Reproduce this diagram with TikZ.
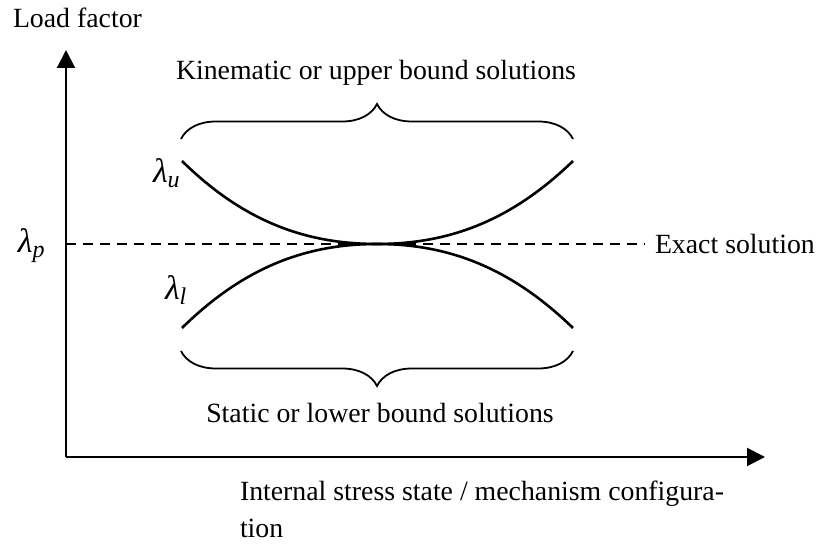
\documentclass[tikz,border=0pt]{standalone}
\usepackage{fontspec}
\setmainfont{Liberation Serif}
\usetikzlibrary{arrows.meta, positioning, decorations.pathreplacing}
\newcommand{\lamsub}[1]{{\fontsize{17}{17}\selectfont\itshape λ}\raisebox{-2.5pt}{\fontsize{12}{12}\selectfont\itshape #1}}

\begin{document}
\begin{tikzpicture}[x=0.5pt,y=-0.5pt,inner sep=0pt,outer sep=0pt,
  lbl/.style={font=\fontsize{13.9}{18.5}\selectfont},
  axis/.style={line width=1pt,-{Triangle[length=9pt,width=9pt]}},
  bound/.style={line width=1.3pt},
  bracket/.style={decorate,decoration={brace,amplitude=17.5pt},line width=0.9pt}]
\useasboundingbox (0,0) rectangle (819,544);
% axes
\coordinate (orig) at (66,457);
\coordinate (ytip) at (66,50);
\coordinate (xtip) at (765,457);
\draw[axis] (orig) -- (ytip);
\draw[axis] (orig) -- (xtip);
\node[lbl,anchor=west] (ylab) at (13,18) {Load factor};
\node[lbl,anchor=north west,align=left] (xlab) at (240,481) {Internal stress state / mechanism configura-\\tion};
% exact solution
\coordinate (pleft) at (66,244);
\coordinate (pright) at (645,244);
\draw[line width=0.8pt,dash pattern=on 5pt off 3.5pt] (pleft) -- (pright);
\node[lbl,anchor=base west] (lamp) at (18,253) {\lamsub{p}};
\node[lbl,anchor=west] (exact) at (655,244) {Exact solution};
% upper and lower bounds
\coordinate (ul) at (182,161);
\coordinate (ur) at (573,161);
\coordinate (ll) at (182,328);
\coordinate (lr) at (573,328);
\coordinate (touch) at (377,244);
\draw[bound] (ul) .. controls (243,221) and (305,244) .. (touch)
  .. controls (449,244) and (511,221) .. (ur);
\draw[bound] (ll) .. controls (243,268) and (305,244) .. (touch)
  .. controls (449,244) and (511,268) .. (lr);
\node[lbl,anchor=base west] (lamu) at (153,183) {\lamsub{u}};
\node[lbl,anchor=base west] (laml) at (165,300) {\lamsub{l}};
% braces
\coordinate (bul) at (181,139);
\coordinate (bur) at (573,139);
\coordinate (bll) at (181,351);
\coordinate (blr) at (573,351);
\draw[bracket] (bul) -- (bur);
\draw[bracket] (blr) -- (bll);
\node[lbl] (kin) at (376,73) {Kinematic or upper bound solutions};
\node[lbl] (stat) at (380,413) {Static or lower bound solutions};
\end{tikzpicture}
\end{document}
